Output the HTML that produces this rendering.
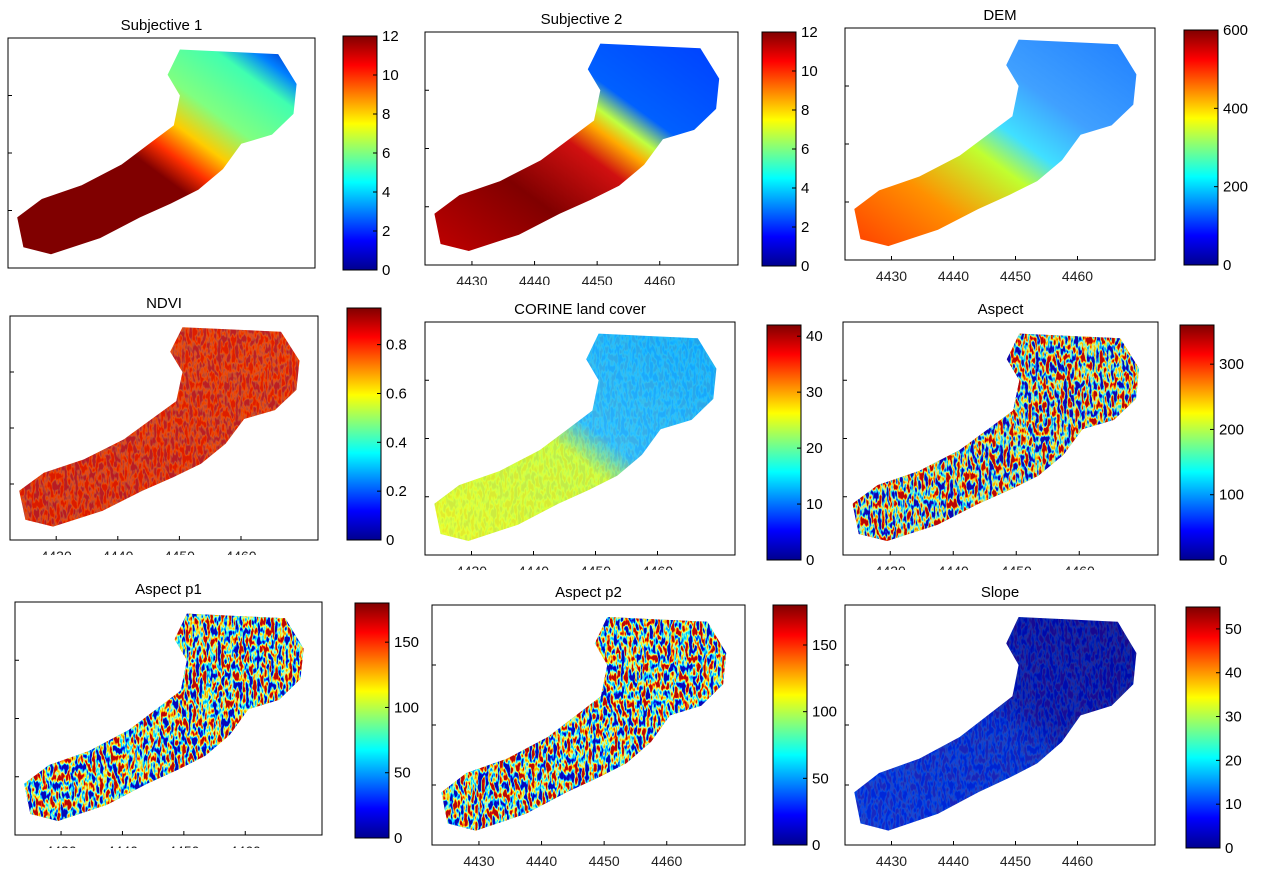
<!DOCTYPE html>
<html><head><meta charset="utf-8">
<style>
html,body{margin:0;padding:0;background:#fff;}
svg text{font-family:"Liberation Sans",sans-serif;}
</style></head>
<body>
<svg id="fig" width="1280" height="874" viewBox="0 0 1280 874" xmlns="http://www.w3.org/2000/svg">
<defs>
<linearGradient id="jetv" x1="0" y1="1" x2="0" y2="0">
<stop offset="0" stop-color="#00008f"/><stop offset="0.125" stop-color="#0000ff"/><stop offset="0.375" stop-color="#00ffff"/><stop offset="0.625" stop-color="#ffff00"/><stop offset="0.875" stop-color="#ff0000"/><stop offset="1" stop-color="#800000"/>
</linearGradient>
<filter id="jetnoise" x="0" y="0" width="100%" height="100%">
<feTurbulence type="fractalNoise" baseFrequency="0.28 0.11" numOctaves="2" seed="3"/>
<feColorMatrix type="matrix" values="1 0 0 0 0 1 0 0 0 0 1 0 0 0 0 0 0 0 0 1"/>
<feComponentTransfer><feFuncR type="linear" slope="3.2" intercept="-1.1"/><feFuncG type="linear" slope="3.2" intercept="-1.1"/><feFuncB type="linear" slope="3.2" intercept="-1.1"/></feComponentTransfer>
<feComponentTransfer>
<feFuncR type="table" tableValues="0 0 0 0 0.5 1 1 1 0.5"/>
<feFuncG type="table" tableValues="0 0 0.5 1 1 1 0.5 0 0"/>
<feFuncB type="table" tableValues="0.5 1 1 1 0.5 0 0 0 0"/>
<feFuncA type="discrete" tableValues="1"/>
</feComponentTransfer>
</filter>
</defs>
</svg>
<script>
const cbTicks1 = [0,2,4,6,8,10,12];
const cbTicksDEM = [0,200,400,600];
const cbTicksNDVI = [0,0.2,0.4,0.6,0.8];
const cbTicksCorine = [0,10,20,30,40];
const cbTicksAspect = [0,100,200,300];
const cbTicksP = [0,50,100,150];
const cbTicksSlope = [0,10,20,30,40,50];
const xTickLabels = [4430,4440,4450,4460];
const shapeN = [[0.56,0.05],[0.88,0.07],[0.94,0.2],[0.93,0.33],[0.86,0.42],[0.76,0.46],[0.7,0.57],[0.62,0.66],[0.53,0.72],[0.43,0.78],[0.3,0.87],[0.14,0.94],[0.05,0.91],[0.03,0.78],[0.11,0.7],[0.24,0.64],[0.37,0.55],[0.46,0.46],[0.54,0.38],[0.56,0.25],[0.52,0.16]];
const NS="http://www.w3.org/2000/svg";
const svg=document.getElementById('fig');
const defs=svg.querySelector('defs');
function mk(t,a,p){const e=document.createElementNS(NS,t);for(const k in a)e.setAttribute(k,a[k]);(p||svg).appendChild(e);return e;}
const panels=[
{t:"Subjective 1",box:[8,38,307,230],cb:[343,36,34,234],ticks:cbTicks1,max:12,g:[["0","#800000"],["0.45","#800000"],["0.52","#ff3000"],["0.6","#ffcc00"],["0.7","#80ff80"],["0.85","#40ffb0"],["0.92","#0080ff"],["1","#0020c0"]],noise:0,xl:false,cut:0},
{t:"Subjective 2",box:[425,32,313,233],cb:[762,32,34,234],ticks:cbTicks1,max:12,g:[["0","#c00000"],["0.3","#800000"],["0.5","#d01010"],["0.58","#ffaa00"],["0.63","#c0ff40"],["0.7","#0060ff"],["1","#0040ff"]],noise:0,xl:true,cut:285},
{t:"DEM",box:[845,28,310,232],cb:[1184,30,34,235],ticks:cbTicksDEM,max:600,g:[["0","#ff4000"],["0.25","#ff9000"],["0.45","#c0ff30"],["0.55","#40e0ff"],["0.7","#40a0ff"],["1","#2080ff"]],noise:0,xl:true,cut:281},
{t:"NDVI",box:[10,316,308,224],cb:[347,308,34,232],ticks:cbTicksNDVI,max:0.95,g:[["0","#e02000"],["1","#e82800"]],noise:0.18,xl:true,cut:555},
{t:"CORINE land cover",box:[425,322,310,233],cb:[767,325,34,235],ticks:cbTicksCorine,max:42,g:[["0","#e8ff30"],["0.45","#d0ff40"],["0.55","#30c0ff"],["1","#10b0ff"]],noise:0.08,xl:true,cut:570},
{t:"Aspect",box:[843,322,315,233],cb:[1180,325,34,235],ticks:cbTicksAspect,max:360,g:[["0","#a04040"],["1","#a04040"]],noise:0.9,xl:true,cut:570},
{t:"Aspect p1",box:[15,602,307,233],cb:[355,603,34,235],ticks:cbTicksP,max:180,g:[["0","#808080"],["1","#808080"]],noise:0.95,xl:true,cut:848},
{t:"Aspect p2",box:[432,605,313,240],cb:[773,605,34,240],ticks:cbTicksP,max:180,g:[["0","#808080"],["1","#808080"]],noise:0.95,xl:true,cut:874},
{t:"Slope",box:[845,605,310,240],cb:[1186,607,34,241],ticks:cbTicksSlope,max:55,g:[["0","#0030e0"],["0.5","#0028d0"],["0.6","#0010b0"],["1","#0008a0"]],noise:0.12,xl:true,cut:874}
];
panels.forEach((p,i)=>{
  const [bx,by,bw,bh]=p.box;
  const grp=mk('g',{});
  
  
  const ttl=mk('text',{x:bx+bw/2,y:by-8,'text-anchor':'middle','font-size':15,fill:'#000'},grp);
  ttl.textContent=p.t;
  
  
  const ax=mk('rect',{x:bx,y:by,width:bw,height:bh,fill:'#fff',stroke:'#000','stroke-width':1},grp);
  
  
  const pts=shapeN.map(q=>(bx+q[0]*bw).toFixed(1)+','+(by+q[1]*bh).toFixed(1)).join(' ');
  const lg=mk('linearGradient',{id:'g'+i,x1:0,y1:1,x2:1,y2:0},defs);
  p.g.forEach(s=>mk('stop',{offset:s[0],'stop-color':s[1]},lg));
  const cp=mk('clipPath',{id:'c'+i},defs);
  mk('polygon',{points:pts},cp);
  const map=mk('polygon',{points:pts,fill:'url(#g'+i+')'},grp);
  
  
  if(p.noise>0){
    const nz=mk('rect',{x:bx,y:by,width:bw,height:bh,filter:'url(#jetnoise)','clip-path':'url(#c'+i+')',opacity:p.noise},grp);
    
    
  }
  for(let k=1;k<4;k++){mk('line',{x1:bx,x2:bx+4,y1:by+bh*k/4,y2:by+bh*k/4,stroke:'#000'},grp);}
  if(p.xl){
    const lc=mk('clipPath',{id:'lc'+i},defs);
    mk('rect',{x:bx-30,y:by+bh,width:bw+60,height:p.cut-(by+bh)},lc);
    const lgp=mk('g',{'clip-path':'url(#lc'+i+')'},grp);
    xTickLabels.forEach((v,k)=>{
      const x=bx+bw*(0.15+0.2*k);
      mk('line',{x1:x,x2:x,y1:by+bh,y2:by+bh-4,stroke:'#000'},grp);
      const tl=mk('text',{x:x,y:by+bh+21,'text-anchor':'middle','font-size':14,fill:'#222'},lgp);
      tl.textContent=v;
      
      
    });
  }
  const [cx,cy,cw,ch]=p.cb;
  const cb=mk('rect',{x:cx,y:cy,width:cw,height:ch,fill:'url(#jetv)',stroke:'#000'},grp);
  
  
  const sy=v=>cy+ch-(v/p.max)*ch;
  p.ticks.forEach(v=>{
    const y=sy(v);
    mk('line',{x1:cx+cw-4,x2:cx+cw,y1:y,y2:y,stroke:'#000'},grp);
    const tl=mk('text',{x:cx+cw+5,y:y+5,'font-size':15,fill:'#000'},grp);
    tl.textContent=v;
    
    
  });
});
</script>
</body></html>
